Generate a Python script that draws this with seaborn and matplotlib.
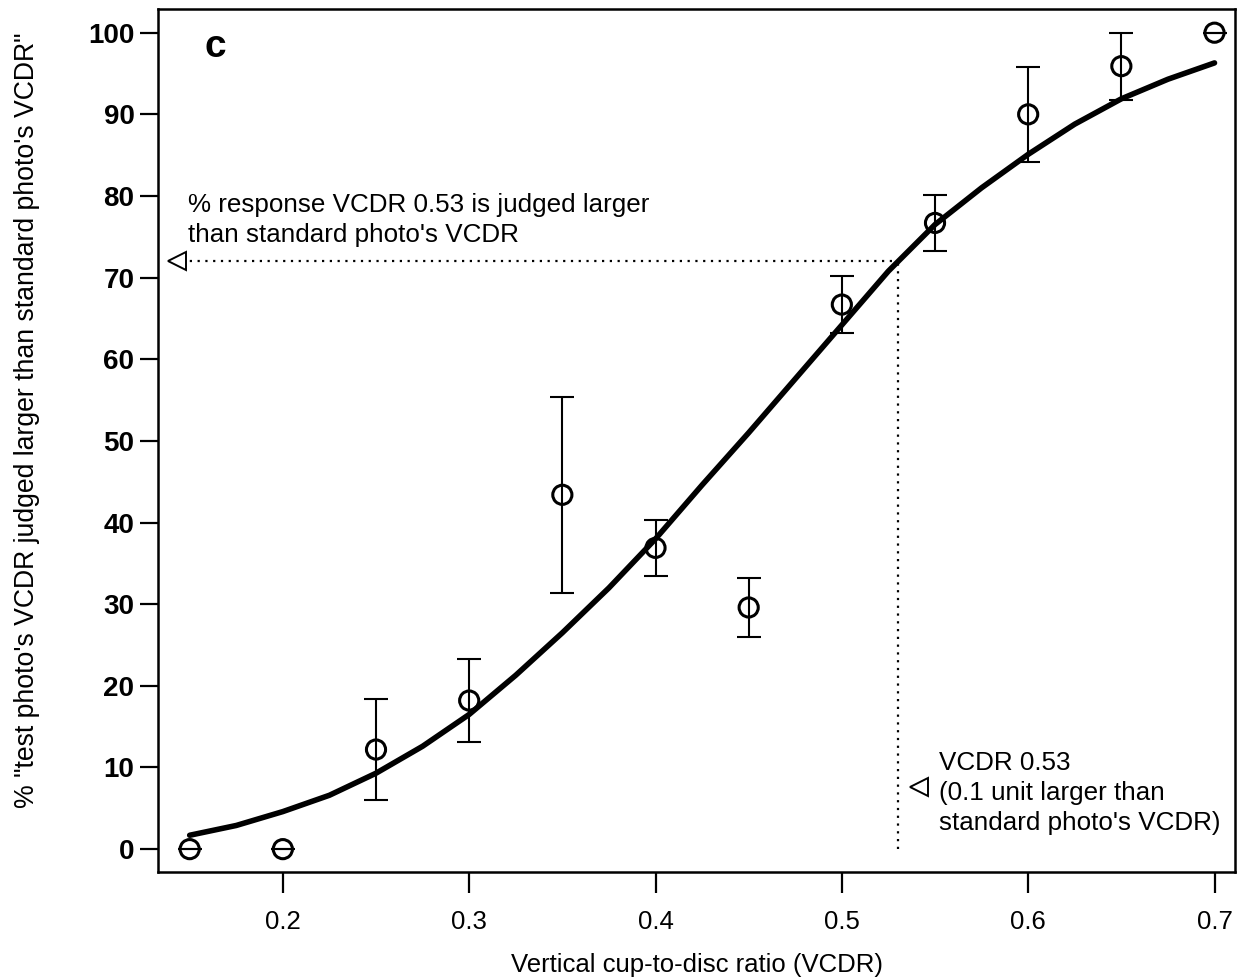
import numpy as np
import pandas as pd
import matplotlib
matplotlib.use("Agg")
import matplotlib.pyplot as plt
import seaborn as sns
from matplotlib import font_manager

# observed responses (mean % and error)
vcdr = [0.15, 0.20, 0.25, 0.30, 0.35, 0.40, 0.45, 0.50, 0.55, 0.60, 0.65, 0.70]
pct_larger = [0, 0, 12.2, 18.2, 43.4, 36.9, 29.6, 66.7, 76.7, 90.0, 95.9, 100]
pct_err = [0, 0, 6.2, 5.1, 12.0, 3.45, 3.65, 3.45, 3.45, 5.85, 4.1, 0]

# fitted psychometric curve
curve_x = [0.15, 0.175, 0.20, 0.225, 0.25, 0.275, 0.30, 0.325, 0.35, 0.375, 0.40, 0.425,
           0.45, 0.475, 0.50, 0.525, 0.55, 0.575, 0.60, 0.625, 0.65, 0.675, 0.70]
curve_y = [1.7, 2.9, 4.6, 6.6, 9.3, 12.6, 16.5, 21.3, 26.5, 32.0, 38.0, 44.6,
           51.0, 57.6, 64.2, 70.8, 76.5, 81.0, 85.1, 88.8, 91.9, 94.3, 96.3]

ref_vcdr = 0.53
ref_pct = 72

sns.set_style("ticks")
installed = {f.name for f in font_manager.fontManager.ttflist}
base = "Liberation Sans" if "Liberation Sans" in installed else "DejaVu Sans"
plt.rcParams['font.family'] = [base, 'DejaVu Sans']
plt.rcParams['text.color'] = 'black'
plt.rcParams['axes.labelcolor'] = 'black'
plt.rcParams['xtick.color'] = 'black'
plt.rcParams['ytick.color'] = 'black'

fig = plt.figure(figsize=(12.49, 9.8), dpi=100)
ax = fig.add_axes([0.1265, 0.1102, 0.8623, 0.8806])

obs = pd.DataFrame({'vcdr': vcdr, 'pct': pct_larger, 'err': pct_err})
fit = pd.DataFrame({'vcdr': curve_x, 'pct': curve_y})

# reference lines
ax.plot([0.146, ref_vcdr], [ref_pct, ref_pct], color='black', lw=1.6,
        linestyle=(0, (1, 2.5)), zorder=1)
ax.plot([ref_vcdr, ref_vcdr], [0, ref_pct], color='black', lw=1.6,
        linestyle=(0, (1, 2.5)), zorder=1)
ax.plot([0.143], [ref_pct], marker='<', ms=13, mfc='white', mec='black', mew=1.4,
        zorder=3)
ax.plot([0.5415], [7.6], marker='<', ms=13, mfc='white', mec='black', mew=1.4,
        zorder=3)

sns.lineplot(data=fit, x='vcdr', y='pct', color='black', lw=4, ax=ax, zorder=2)
ax.errorbar(obs['vcdr'], obs['pct'], yerr=obs['err'], fmt='none', ecolor='black',
            elinewidth=1.5, capsize=8.5, capthick=1.5, zorder=3)
sns.scatterplot(data=obs, x='vcdr', y='pct', marker='o', s=190, facecolor='none',
                edgecolor='black', linewidth=2.2, ax=ax, zorder=4)

ax.set_xlim(0.133, 0.711)
ax.set_ylim(-2.8, 102.9)
ax.set_xticks([0.2, 0.3, 0.4, 0.5, 0.6, 0.7])
ax.set_xticklabels(['0.2', '0.3', '0.4', '0.5', '0.6', '0.7'], fontsize=18.5)
ax.set_yticks(range(0, 101, 10))
ax.set_yticklabels([str(v) for v in range(0, 101, 10)], fontsize=20, fontweight='bold')
ax.tick_params(axis='y', length=13, width=1.6, pad=4)
ax.tick_params(axis='x', length=15, width=1.6, pad=12)

for s in ax.spines.values():
    s.set_linewidth(1.8)
    s.set_color('black')

ax.set_xlabel('Vertical cup-to-disc ratio (VCDR)', fontsize=18.5, labelpad=14)
ax.set_ylabel('% "test photo\'s VCDR judged larger than standard photo\'s VCDR"',
              fontsize=19.2)
ax.yaxis.set_label_coords(-0.110, 0.524)

ax.text(0.1636, 98.2, 'c', fontsize=28, fontweight='bold', ha='center', va='center')
ax.text(0.149, 77.1, "% response VCDR 0.53 is judged larger\nthan standard photo's VCDR",
        fontsize=18.7, ha='left', va='center', linespacing=1.3)
ax.text(0.552, 6.9, "VCDR 0.53\n(0.1 unit larger than\nstandard photo's VCDR)",
        fontsize=18.7, ha='left', va='center', linespacing=1.3)

fig.savefig('out.png', dpi=100)
